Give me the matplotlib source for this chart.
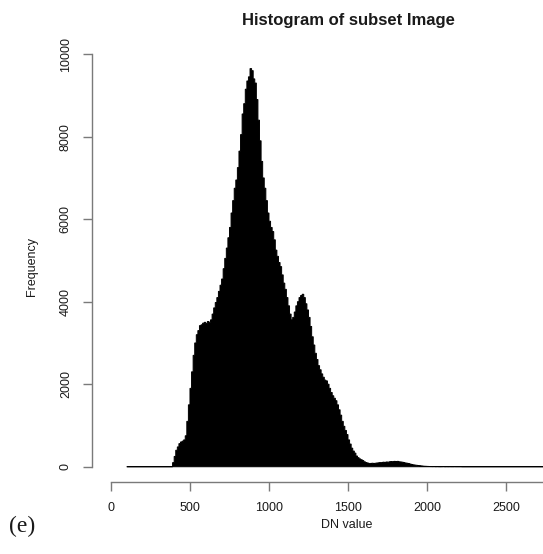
import matplotlib
matplotlib.use("Agg")
import matplotlib.pyplot as plt
import numpy as np

# Histogram of DN values: 10-DN bins starting at DN 100
bin_start = 100
bin_width = 10

# counts below DN 370 are empty
counts_low = [0] * 27
# counts for DN 370 .. 2210
counts_main = [
    0, 0, 100, 250, 400, 480, 560, 600, 620, 650,            # 370-460
    750, 1100, 1500, 1900, 2300, 2700, 3000, 3200, 3300, 3420,  # 470-560
    3440, 3480, 3500, 3470, 3520, 3500, 3560, 3700, 3850, 3980,  # 570-660
    4100, 4250, 4400, 4550, 4800, 5050, 5300, 5550, 5800, 6150,  # 670-760
    6450, 6750, 6950, 7250, 7650, 8050, 8550, 8800, 9150, 9350,  # 770-860
    9450, 9650, 9600, 9400, 9300, 8900, 8400, 7900, 7400, 7000,  # 870-960
    6750, 6450, 6150, 5950, 5800, 5700, 5500, 5250, 5100, 4950,  # 970-1060
    4850, 4650, 4450, 4300, 4100, 3900, 3700, 3560, 3620, 3750,  # 1070-1160
    3900, 4000, 4100, 4150, 4180, 4100, 3950, 3800, 3620, 3400,  # 1170-1260
    3150, 2950, 2750, 2600, 2450, 2350, 2250, 2170, 2100, 2080,  # 1270-1360
    2000, 1900, 1800, 1720, 1660, 1600, 1500, 1380, 1250, 1100,  # 1370-1460
    980, 880, 780, 650, 550, 450, 380, 330, 260, 220,            # 1470-1560
    190, 170, 150, 120, 100, 90, 80, 80, 85, 80,                 # 1570-1660
    85, 90, 95, 100, 100, 110, 105, 115, 110, 120,               # 1670-1760
    125, 120, 130, 125, 130, 120, 115, 110, 100, 90,             # 1770-1860
    85, 75, 65, 55, 45, 40, 35, 30, 25, 20,                      # 1870-1960
    15, 12, 10, 8, 6, 5, 4, 5, 3, 4,                             # 1970-2060
    3, 2, 3, 4, 2, 3, 2, 3, 2, 2,                                # 2070-2160
    3, 2, 2, 2, 2,                                               # 2170-2210
]
# counts above DN 2210 are empty
counts_high = [0] * 59

counts = counts_low + counts_main + counts_high
x_ticks = [0, 500, 1000, 1500, 2000, 2500]
y_ticks = [0, 2000, 4000, 6000, 8000, 10000]

W, H = 543, 554
fig = plt.figure(figsize=(W / 100, H / 100), dpi=100)
fig.patch.set_facecolor("white")

ax = fig.add_axes([92 / W, 1 - 482 / H, (604 - 92) / W, (482 - 52.5) / H])
ax.set_facecolor("white")

edges = bin_start + bin_width * np.arange(len(counts) + 1)
centers = edges[:-1] + bin_width / 2
ax.hist(centers, bins=edges, weights=counts, histtype="stepfilled",
        facecolor="black", edgecolor="black", linewidth=0.7)

ax.set_xlim(-120, 3120)
ax.set_ylim(-370, 10040)

axis_grey = "#7a7a7a"
text_col = "#1a1a1a"
for side in ("top", "right"):
    ax.spines[side].set_visible(False)
ax.spines["left"].set_bounds(0, 10000)
ax.spines["bottom"].set_bounds(0, 3000)
for side in ("left", "bottom"):
    ax.spines[side].set_color(axis_grey)
    ax.spines[side].set_linewidth(1.0)

ax.set_xticks(x_ticks)
ax.set_yticks(y_ticks)
ax.tick_params(axis="both", direction="out", length=6.5, width=1.0,
               color=axis_grey, labelcolor=text_col, labelsize=9,
               pad=8)
for lab in ax.get_yticklabels():
    lab.set_rotation(90)
    lab.set_va("center")
    lab.set_fontfamily("Liberation Sans")
for lab in ax.get_xticklabels():
    lab.set_fontfamily("Liberation Sans")

fig.text(348 / W, 1 - 21 / H, "Histogram of subset Image",
         ha="center", va="center", fontsize=12, fontweight="bold",
         family="Liberation Sans", color=text_col)
fig.text(32 / W, 1 - 267 / H, "Frequency", rotation=90,
         ha="center", va="center", fontsize=9,
         family="Liberation Sans", color=text_col)
fig.text(347 / W, 1 - 525 / H, "DN value",
         ha="center", va="center", fontsize=9,
         family="Liberation Sans", color=text_col)
fig.text(22 / W, 1 - 526 / H, "(e)",
         ha="center", va="center", fontsize=17,
         family="Liberation Serif", color=text_col)

fig.savefig("out.png", dpi=100, facecolor="white")
